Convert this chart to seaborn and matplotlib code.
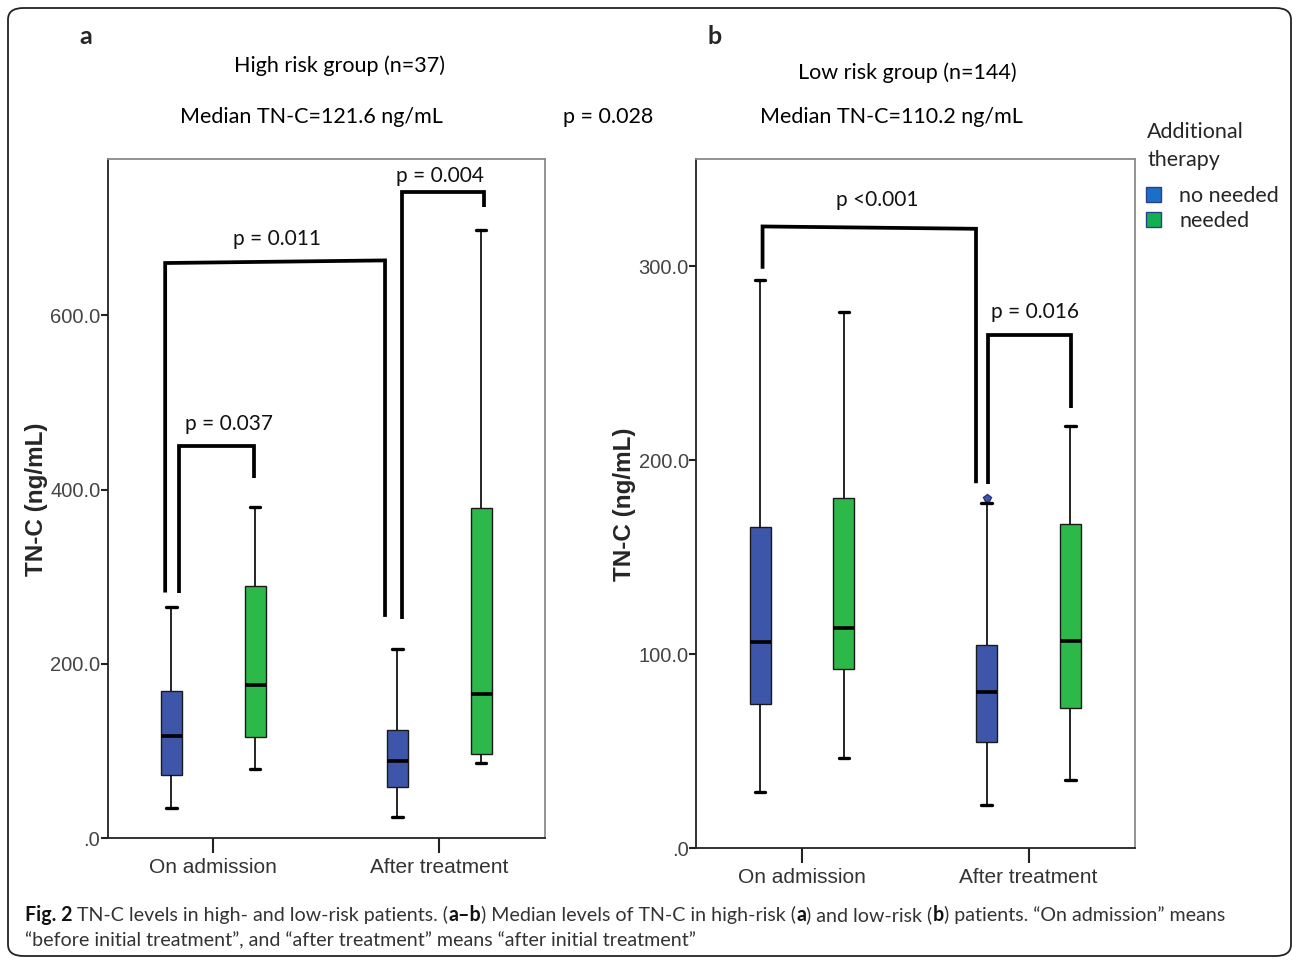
import matplotlib
matplotlib.use("Agg")
import matplotlib.pyplot as plt
import seaborn as sns
import pandas as pd
from matplotlib.patches import Patch, FancyBboxPatch
from matplotlib.ticker import FuncFormatter

visits = ["On admission", "After treatment"]
therapy = ["no needed", "needed"]

# five-number summaries, order: admission/no, admission/needed, after/no, after/needed
high_low = [35.1, 79.9, 24.1, 86.4]
high_q1 = [72.3, 116.6, 58.5, 96.4]
high_med = [117.4, 175.6, 88.7, 165.9]
high_q3 = [169.4, 289.8, 124.3, 378.7]
high_hi = [265.4, 380.5, 217.2, 697.6]
high_out = [[], [], [], []]

low_low = [29.2, 46.4, 22.3, 35.2]
low_q1 = [74.2, 92.3, 54.6, 72.5]
low_med = [106.2, 113.4, 80.6, 107.0]
low_q3 = [165.8, 180.4, 104.6, 167.2]
low_hi = [292.9, 276.3, 178.0, 217.7]
low_out = [[], [], [180.5], []]

# significance brackets: (x left, x right, y left foot, y right foot, y top left, y top right, label, label x, label y)
high_brackets = [
    (-0.152, 0.180, 282, 413, 450, 450, "p = 0.037", 0.07, 475),
    (-0.213, 0.760, 282, 254, 660, 663, "p = 0.011", 0.28, 688),
    (0.835, 1.200, 252, 724, 741, 741, "p = 0.004", 1.005, 760),
]
low_brackets = [
    (-0.174, 0.768, 298.6, 188.1, 320.4, 319.2, "p <0.001", 0.33, 334),
    (0.823, 1.186, 187.6, 226.8, 264.4, 264.4, "p = 0.016", 1.03, 276.5),
]

box_colors = ["#3D56AA", "#2DB84A"]
legend_colors = ["#1C6FC6", "#12B04E"]


def long_table(lo, q1, med, q3, hi, extra):
    rows = []
    keys = [(v, t) for v in visits for t in therapy]
    for i, (v, t) in enumerate(keys):
        vals = [lo[i], q1[i], q1[i], med[i], med[i], q3[i], q3[i], hi[i]] + list(extra[i])
        rows += [(v, t, x) for x in vals]
    return pd.DataFrame(rows, columns=["visit", "therapy", "tnc"])


sns.set_theme(style="white")
plt.rcParams["font.family"] = ["Lato", "DejaVu Sans"]
arial = ["Liberation Sans", "DejaVu Sans"]

W, H = 1293, 960
fig = plt.figure(figsize=(W / 100, H / 100), dpi=100)


def fx(x):
    return x / W


def fy(y):
    return 1 - y / H


def panel(rect, df, ymax, yticks, brackets):
    ax = fig.add_axes(rect)
    sns.boxplot(data=df, x="visit", y="tnc", hue="therapy", order=visits,
                hue_order=therapy, palette=box_colors, width=0.74, gap=0.75,
                linecolor="#1a1a1a", linewidth=1.0, fliersize=6, legend=False,
                saturation=1, ax=ax,
                medianprops=dict(color="black", linewidth=2.6),
                capprops=dict(color="black", linewidth=2.4),
                whiskerprops=dict(color="black", linewidth=1.2),
                flierprops=dict(marker="p", markerfacecolor=box_colors[0],
                                markeredgecolor="#25357a"))
    ax.set_xlim(-0.466, 1.468)
    ax.set_ylim(0, ymax)
    ax.set_yticks(yticks)
    ax.yaxis.set_major_formatter(FuncFormatter(lambda v, p: ".0" if v == 0 else f"{v:.1f}"))
    ax.set_xlabel("")
    ax.set_ylabel("TN-C (ng/mL)", fontsize=17.5, fontweight="bold", family=arial)
    ax.yaxis.set_label_coords(-0.137, 0.5)
    for s in ["left", "bottom"]:
        ax.spines[s].set_color("#222222")
        ax.spines[s].set_linewidth(1.3)
    for s in ["top", "right"]:
        ax.spines[s].set_color("#8a8a8a")
        ax.spines[s].set_linewidth(1.3)
    ax.tick_params(axis="y", length=5, width=1.5, color="#222222", pad=0.5,
                   labelsize=14.5, labelcolor="#444444", left=True)
    ax.tick_params(axis="x", length=11, width=1.5, color="#222222", pad=3,
                   labelsize=15, labelcolor="#333333", bottom=True)
    for lab in ax.get_xticklabels() + ax.get_yticklabels():
        lab.set_family(arial)
    for x0, x1, yb0, yb1, yt0, yt1, txt, tx, ty in brackets:
        ax.plot([x0, x0, x1, x1], [yb0, yt0, yt1, yb1], color="black", lw=2.7,
                solid_joinstyle="miter", solid_capstyle="butt")
        ax.text(tx, ty, txt, ha="center", va="center", fontsize=15, color="#111111")
    return ax


high_df = long_table(high_low, high_q1, high_med, high_q3, high_hi, high_out)
low_df = long_table(low_low, low_q1, low_med, low_q3, low_hi, low_out)

ax_a = panel([fx(108), fy(838.3), fx(545) - fx(108), fy(159.3) - fy(838.3)],
             high_df, 779, [0, 200, 400, 600], high_brackets)
ax_b = panel([fx(696.4), fy(848.3), fx(1134.6) - fx(696.4), fy(159.3) - fy(848.3)],
             low_df, 355, [0, 100, 200, 300], low_brackets)

# headers
head = dict(fontsize=15.5, ha="center", va="center", color="black")
fig.text(fx(86), fy(36), "a", fontsize=18, fontweight="bold", ha="center", va="center")
fig.text(fx(715), fy(36), "b", fontsize=18, fontweight="bold", ha="center", va="center")
fig.text(fx(340), fy(66), "High risk group (n=37)", **head)
fig.text(fx(311), fy(117), "Median TN-C=121.6 ng/mL", **head)
fig.text(fx(608), fy(117), "p = 0.028", **head)
fig.text(fx(907), fy(73), "Low risk group (n=144)", **head)
fig.text(fx(891), fy(117), "Median TN-C=110.2 ng/mL", **head)

# legend: title drawn separately to get the wider gap before the entries
fig.text(fx(1147), fy(132), "Additional", fontsize=15.5, ha="left", va="center")
fig.text(fx(1147), fy(160), "therapy", fontsize=15.5, ha="left", va="center")
handles = [Patch(facecolor=c, edgecolor="#2a3f8f", linewidth=1.0) for c in legend_colors]
leg = fig.legend(handles, therapy, loc="upper left",
                 bbox_to_anchor=(fx(1146), fy(186)), frameon=False, fontsize=15.5,
                 handlelength=0.7, handleheight=0.7,
                 handletextpad=0.85, labelspacing=0.22, borderpad=0, borderaxespad=0)

# caption with bold pieces
renderer = fig.canvas.get_renderer()


def rich_line(pieces, x, y):
    for s, bold in pieces:
        t = fig.text(x, y, s, fontsize=14.1, va="center", ha="left",
                     fontweight="bold" if bold else "normal",
                     color="#111111" if bold else "#333333")
        x += t.get_window_extent(renderer).width / W


rich_line([("Fig. 2", True), (" TN-C levels in high- and low-risk patients. (", False),
           ("a\u2013b", True), (") Median levels of TN-C in high-risk (", False),
           ("a", True), (") and low-risk (", False), ("b", True),
           (") patients. \u201cOn admission\u201d means", False)], fx(25), fy(915))
rich_line([("\u201cbefore initial treatment\u201d, and \u201cafter treatment\u201d means "
            "\u201cafter initial treatment\u201d", False)], fx(25), fy(941))

border = FancyBboxPatch((fx(8), fy(956)), fx(1291) - fx(8), fy(8) - fy(956),
                        boxstyle="round,pad=0,rounding_size=0.012",
                        transform=fig.transFigure, fill=False, edgecolor="#222222",
                        linewidth=1.3)
fig.patches.append(border)

fig.savefig("out.png", dpi=100)
